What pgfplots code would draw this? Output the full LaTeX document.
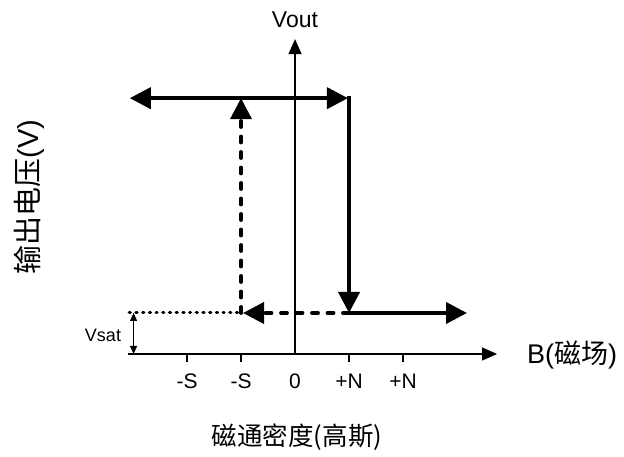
\documentclass[border=0pt]{standalone}
\usepackage{fontspec}
\setmainfont{Liberation Sans}
\newfontfamily\cjk{Noto Sans CJK SC}
\usepackage{pgfplots}
\pgfplotsset{compat=1.18}
\usetikzlibrary{arrows.meta}

\tikzset{
  bigtip/.style={-{Triangle[length=21pt,width=21pt]}},
  solidline/.style={black, line width=3.8pt, bigtip},
  dashline/.style={black, line width=3.8pt, line cap=round, dash pattern=on 6pt off 9.5pt, bigtip},
}

\begin{document}
\begin{tikzpicture}[x=1pt,y=1pt]
\path (0,0) rectangle (624,457);

\begin{axis}[
  at={(128pt,103pt)}, anchor=south west,
  x=54pt, y=41pt,
  xmin=-3.093, xmax=3.741, ymin=0, ymax=7.68,
  axis lines=middle,
  axis line style={black, line width=1.3pt, -{Triangle[length=15pt,width=13pt]}},
  xtick={-2,-1,1,2}, xticklabels={-S,-S,+N,+N},
  extra x ticks={0}, extra x tick labels={0},
  extra x tick style={major tick length=0pt, xticklabel style={yshift=-8pt}},
  hide obscured x ticks=false,
  ytick=\empty,
  tick align=outside, major tick length=8pt,
  tick style={line width=1.3pt, black},
  xticklabel style={font=\fontsize{21}{24}\selectfont, anchor=base, yshift=-27pt},
  clip=false,
]
% Vsat level (thin dotted)
\addplot[black, line width=3pt, line cap=round, dash pattern=on 1.2pt off 5.5pt]
  coordinates {(-3.07,1) (-1,1)};
% Vsat height
\addplot[black, line width=1pt,
  {Triangle[length=8pt,width=7pt]}-{Triangle[length=8pt,width=7pt]}]
  coordinates {(-2.99,0) (-2.99,1)};
% return path (dashed)
\addplot[dashline] coordinates {(1,1) (-0.963,1)};
\addplot[dashline] coordinates {(-1,1) (-1,6.24)};
% forward path (solid)
\addplot[solidline, {Triangle[length=21pt,width=21pt]}-{Triangle[length=21pt,width=21pt]}]
  coordinates {(-3.06,6.24) (0.98,6.24)};
\addplot[solidline] coordinates {(1,6.29) (1,1)};
\addplot[solidline] coordinates {(0.98,1) (3.185,1)};
\end{axis}

\node[font=\fontsize{23}{26}\selectfont] at (295,437) {Vout};
\node[font=\fontsize{27}{30}\selectfont, anchor=west, inner sep=0pt] at (527,102) {B({\cjk 磁场})};
\node[font=\fontsize{18}{21}\selectfont] at (103,122) {Vsat};
\node[font=\fontsize{25.5}{28}\selectfont] at (297,20) {\cjk 磁通密度(高斯)};
\node[font=\fontsize{29}{32}\selectfont, rotate=90] at (29,260) {{\cjk 输出电压}(V)};
\end{tikzpicture}
\end{document}
